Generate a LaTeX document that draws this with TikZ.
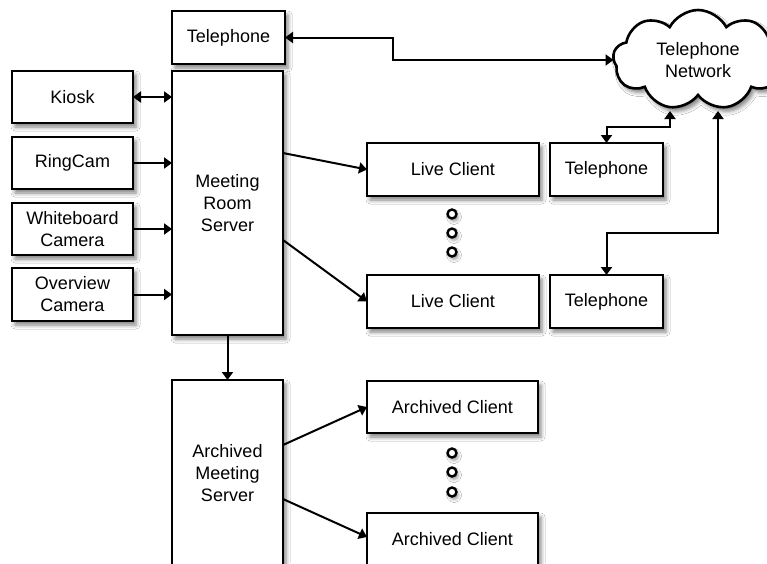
\documentclass[tikz,border=0pt]{standalone}
\usepackage{fontspec}
\setmainfont{Liberation Sans}
\usetikzlibrary{arrows.meta,shapes.symbols,shadows.blur,calc}
\begin{document}
\begin{tikzpicture}[x=1pt,y=-1pt,
  box/.style={draw, line width=2.6pt, fill=white, inner sep=0pt, outer sep=0pt, align=center,
    font=\fontsize{18}{22}\selectfont,
    blur shadow={shadow xshift=3pt, shadow yshift=-4pt, shadow blur radius=4pt, shadow opacity=50}},
  conn/.style={line width=2pt, -{Triangle[width=11pt,length=8pt]}},
  biconn/.style={line width=2pt, {Triangle[width=11pt,length=8pt]}-{Triangle[width=11pt,length=8pt]}},
  dotc/.style={circle, draw, line width=2.4pt, inner sep=0pt, minimum size=9pt, fill=white,
    blur shadow={shadow xshift=2pt, shadow yshift=-3pt, shadow blur radius=3pt, shadow opacity=40}}
]
\useasboundingbox[fill=white] (0,0) rectangle (767,563);

% boxes
\node[box, minimum width=113pt, minimum height=53pt] (telT) at (228.5,37.5) {Telephone};
\node[box, minimum width=121pt, minimum height=52pt] (kiosk) at (72.5,97) {Kiosk};
\node[box, minimum width=121pt, minimum height=52pt] (ring) at (72.5,163) {RingCam};
\node[box, minimum width=121pt, minimum height=52pt] (white) at (72.5,229) {Whiteboard\\Camera};
\node[box, minimum width=121pt, minimum height=53pt] (over) at (72.5,294.5) {Overview\\Camera};
\node[box, minimum width=111pt, minimum height=264pt] (mrs) at (227.5,203) {Meeting\\Room\\Server};
\node[box, minimum width=111pt, minimum height=186pt] (ams) at (227.5,473) {Archived\\Meeting\\Server};
\node[box, minimum width=172pt, minimum height=53pt] (lc1) at (453,169.5) {Live Client};
\node[box, minimum width=172pt, minimum height=53pt] (lc2) at (453,301.5) {Live Client};
\node[box, minimum width=113pt, minimum height=53pt] (tel1) at (606.5,169.5) {Telephone};
\node[box, minimum width=113pt, minimum height=53pt] (tel2) at (606.5,301.5) {Telephone};
\node[box, minimum width=171pt, minimum height=52pt] (ac1) at (452.5,407) {Archived Client};
\node[box, minimum width=171pt, minimum height=52pt] (ac2) at (452.5,539) {Archived Client};
\node[box, cloud, cloud puffs=9, cloud puff arc=125, aspect=1.7,
      minimum width=170pt, minimum height=100pt] (cloud) at (698,60) {Telephone\\Network};

% ellipsis dots
\node[dotc] (d1) at (452,214) {};
\node[dotc] (d2) at (452,233) {};
\node[dotc] (d3) at (452,252) {};
\node[dotc] (d4) at (452,453) {};
\node[dotc] (d5) at (452,472) {};
\node[dotc] (d6) at (452,492) {};

% connectors
\draw[biconn] (telT.east) -- ++(108,0) |- (cloud.west);
\draw[biconn] (kiosk.east) -- (kiosk.east -| mrs.west);
\draw[conn] (ring.east) -- (ring.east -| mrs.west);
\draw[conn] (white.east) -- (white.east -| mrs.west);
\draw[conn] (over.east) -- (over.east -| mrs.west);
\draw[conn] ($(mrs.east)+(0,-50)$) -- (lc1.west);
\draw[conn] ($(mrs.east)+(0,37)$) -- (lc2.west);
\draw[conn] (mrs.south) -- (ams.north);
\draw[conn] ($(ams.east)+(0,-28)$) -- (ac1.west);
\draw[conn] ($(ams.east)+(0,26)$) -- ($(ac2.west)+(0,-2)$);
\coordinate (cA) at (670,111);
\coordinate (cB) at (718,111);
\draw[biconn] (tel1.north) -- ++(0,-16) -| (cA);
\draw[biconn] (tel2.north) -- ++(0,-42) -| (cB);
\end{tikzpicture}
\end{document}
